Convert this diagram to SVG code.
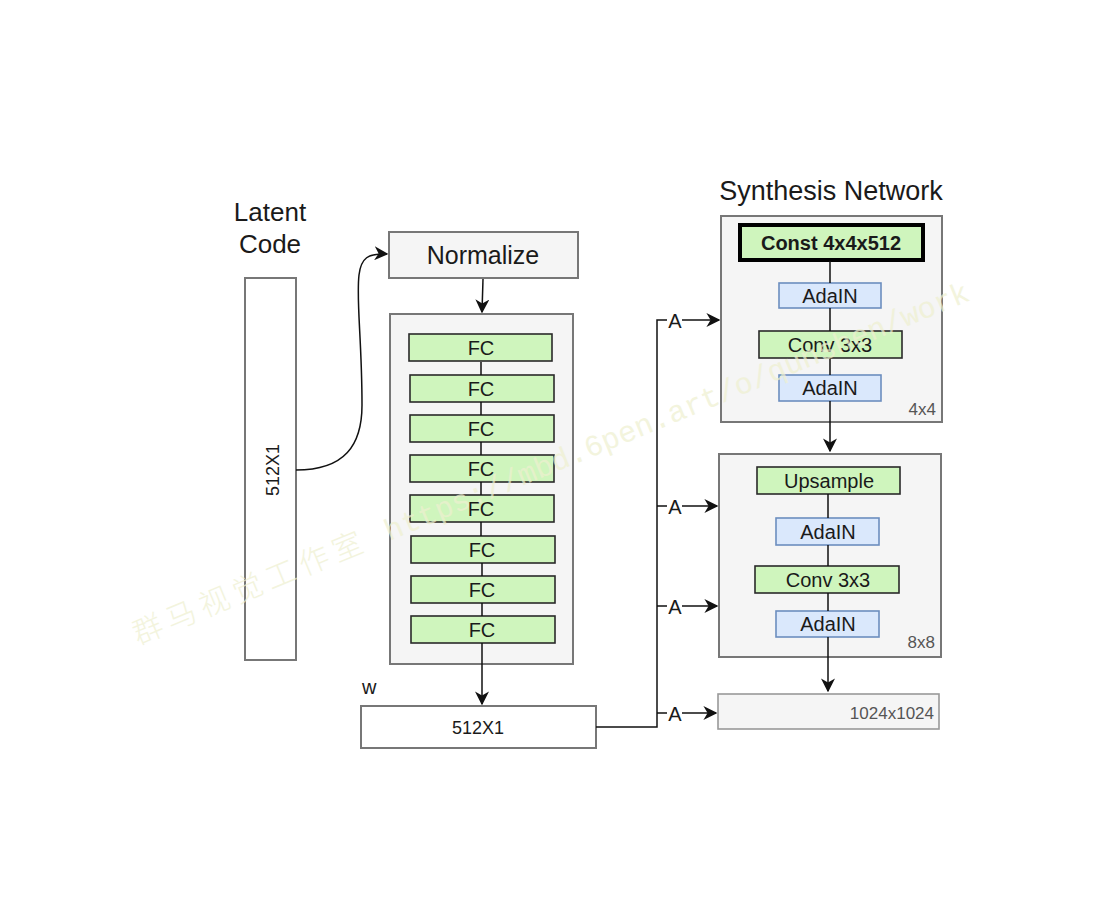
<svg xmlns="http://www.w3.org/2000/svg" width="1108" height="923" viewBox="0 0 1108 923">
<style>
text{font-family:"Liberation Sans",Arial,sans-serif;fill:#1a1a1a}
.title{font-size:26px}
.lbl{font-size:20px;text-anchor:middle}
.small{font-size:18px;text-anchor:middle}
.gray{font-size:17px;text-anchor:end;fill:#555}
.cont{fill:#f5f5f5;stroke:#777;stroke-width:2}
.plain{fill:#ffffff;stroke:#777;stroke-width:2}
.green{fill:#cff5bd;stroke:#2a2a2a;stroke-width:1.6}
.blue{fill:#dae8fc;stroke:#6c8ebf;stroke-width:1.6}
.ln{fill:none;stroke:#111;stroke-width:1.5}
.wm{font-size:30px;fill:#eef0d0;opacity:0.7}
</style>
<defs>
<marker id="arr" viewBox="0 0 10 10" refX="9" refY="5" markerWidth="14" markerHeight="14" markerUnits="userSpaceOnUse" orient="auto">
<path d="M0,0 L10,5 L0,10 L3,5 z" fill="#111"/>
</marker>
</defs>
<rect width="1108" height="923" fill="#ffffff"/>

<g id="latent">
<text class="title" x="270" y="221" text-anchor="middle">Latent</text>
<text class="title" x="270" y="253" text-anchor="middle">Code</text>
<rect class="plain" x="245" y="278" width="51" height="382"/>
<text class="small" transform="translate(279,470) rotate(-90)">512X1</text>
</g>

<g id="normalize">
<rect class="cont" x="389" y="232" width="189" height="46"/>
<text x="483" y="264" font-size="25" text-anchor="middle">Normalize</text>
</g>

<g id="mapping">
<rect class="cont" x="390" y="314" width="183" height="350"/>
</g>
<g id="fc1"><rect class="green" x="409" y="334" width="143" height="27"/><text class="lbl" x="481" y="355">FC</text></g>
<g id="fc2"><rect class="green" x="410" y="375" width="144" height="27"/><text class="lbl" x="481" y="396">FC</text></g>
<g id="fc3"><rect class="green" x="410" y="415" width="144" height="27"/><text class="lbl" x="481" y="436">FC</text></g>
<g id="fc4"><rect class="green" x="410" y="455" width="144" height="27"/><text class="lbl" x="481" y="476">FC</text></g>
<g id="fc5"><rect class="green" x="410" y="495" width="144" height="27"/><text class="lbl" x="481" y="516">FC</text></g>
<g id="fc6"><rect class="green" x="411" y="536" width="144" height="27"/><text class="lbl" x="482" y="557">FC</text></g>
<g id="fc7"><rect class="green" x="411" y="576" width="144" height="27"/><text class="lbl" x="482" y="597">FC</text></g>
<g id="fc8"><rect class="green" x="411" y="616" width="144" height="27"/><text class="lbl" x="482" y="637">FC</text></g>

<g id="w">
<text x="362" y="694" font-size="20">w</text>
<rect class="plain" x="361" y="706" width="235" height="42"/>
<text class="small" x="478" y="734">512X1</text>
</g>

<g id="synth4">
<text x="831" y="200" font-size="27" text-anchor="middle">Synthesis Network</text>
<rect class="cont" x="721" y="216" width="221" height="206"/>
<text class="gray" x="936" y="415">4x4</text>
</g>
<g id="const"><rect fill="#cff5bd" stroke="#000" stroke-width="4" x="740" y="225" width="183" height="35"/><text x="831" y="250" font-size="20" font-weight="bold" text-anchor="middle">Const 4x4x512</text></g>
<g id="adain1"><rect class="blue" x="779" y="283" width="102" height="25"/><text class="lbl" x="830" y="303">AdaIN</text></g>
<g id="conv1"><rect class="green" x="759" y="331" width="143" height="27"/><text class="lbl" x="830" y="352">Conv 3x3</text></g>
<g id="adain2"><rect class="blue" x="779" y="375" width="102" height="26"/><text class="lbl" x="830" y="395">AdaIN</text></g>

<g id="synth8">
<rect class="cont" x="719" y="454" width="222" height="203"/>
<text class="gray" x="935" y="648">8x8</text>
</g>
<g id="upsample"><rect class="green" x="757" y="467" width="143" height="27"/><text class="lbl" x="829" y="488">Upsample</text></g>
<g id="adain3"><rect class="blue" x="776" y="518" width="103" height="27"/><text class="lbl" x="828" y="539">AdaIN</text></g>
<g id="conv2"><rect class="green" x="755" y="566" width="144" height="27"/><text class="lbl" x="828" y="587">Conv 3x3</text></g>
<g id="adain4"><rect class="blue" x="776" y="611" width="103" height="26"/><text class="lbl" x="828" y="631">AdaIN</text></g>

<g id="out">
<rect fill="#f5f5f5" stroke="#999" stroke-width="1.6" x="718" y="694" width="221" height="35"/>
<text class="gray" x="934" y="719">1024x1024</text>
</g>

<g id="connectors">
<path class="ln" d="M296,470 C345,470 362,445 362,405 C362,340 356,300 359,275 C361,258 368,253 387,254" marker-end="url(#arr)"/>
<path class="ln" d="M483,279 L482,312" marker-end="url(#arr)"/>
<path class="ln" d="M481,362 L481,375 M481,402 L481,415 M481,442 L481,455 M481,482 L481,495 M481,522 L481,536 M482,563 L482,576 M482,603 L482,616"/>
<path class="ln" d="M482,643 L482,704" marker-end="url(#arr)"/>
<path class="ln" d="M596,727 L657,727 L657,320 L667,320"/>
<path class="ln" d="M657,506 L667,506 M657,606 L667,606 M657,713 L667,713"/>
<path class="ln" d="M682,320 L719,320" marker-end="url(#arr)"/>
<path class="ln" d="M682,506 L717,506" marker-end="url(#arr)"/>
<path class="ln" d="M682,606 L717,606" marker-end="url(#arr)"/>
<path class="ln" d="M682,713 L716,713" marker-end="url(#arr)"/>
<text class="lbl" x="675" y="328">A</text>
<text class="lbl" x="675" y="514">A</text>
<text class="lbl" x="675" y="614">A</text>
<text class="lbl" x="675" y="721">A</text>
<path class="ln" d="M830,261 L830,283 M830,308 L830,331 M830,358 L830,375"/>
<path class="ln" d="M830,401 L830,451" marker-end="url(#arr)"/>
<path class="ln" d="M828,494 L828,518 M828,545 L828,566 M828,593 L828,611"/>
<path class="ln" d="M828,637 L828,691" marker-end="url(#arr)"/>
</g>

<g id="watermark" transform="translate(138,645) rotate(-22.5)">
<text class="wm" x="0" y="0" style="font-family:'Noto Sans CJK SC',sans-serif;font-weight:300;letter-spacing:6px">群马视觉工作室</text>
<text class="wm" x="272" y="0" style="font-family:'Liberation Mono',monospace">https://mbd.6pen.art/o/qunshen/work</text>
</g>
</svg>
